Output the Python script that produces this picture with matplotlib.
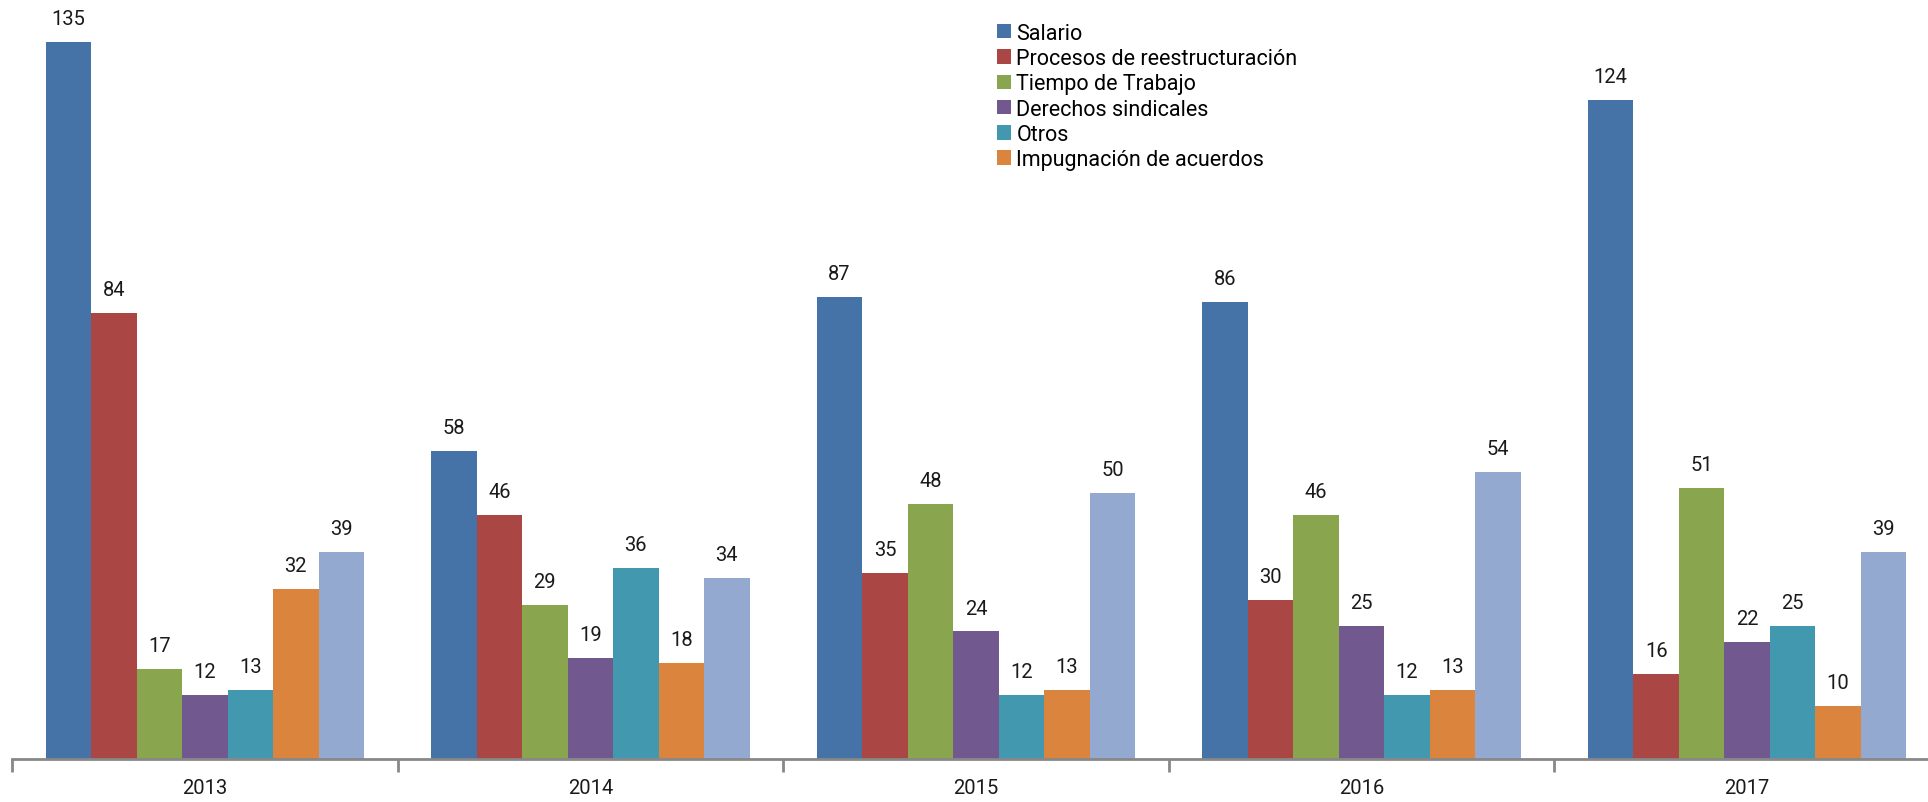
import numpy as np
import matplotlib.pyplot as plt

plt.rcParams['font.family'] = ['Roboto', 'DejaVu Sans']

# data
years = ["2013", "2014", "2015", "2016", "2017"]
salario = [135, 58, 87, 86, 124]
procesos = [84, 46, 35, 30, 16]
tiempo = [17, 29, 48, 46, 51]
derechos = [12, 19, 24, 25, 22]
otros = [13, 36, 12, 12, 25]
impugnacion = [32, 18, 13, 13, 10]
total_otro = [39, 34, 50, 54, 39]

series = [salario, procesos, tiempo, derechos, otros, impugnacion, total_otro]
names = ["Salario", "Procesos de reestructuración", "Tiempo de Trabajo",
         "Derechos sindicales", "Otros", "Impugnación de acuerdos", None]
colors = ["#4572A7", "#AA4643", "#89A54E", "#71588F", "#4198AF", "#DB843D", "#93A9CF"]

fig = plt.figure(figsize=(19.28, 8.03), dpi=100)
ax = fig.add_axes([0.0062, 0.0535, 1.0, 0.9465])

x = np.arange(len(years))
w = 0.118
for i, (vals, name, c) in enumerate(zip(series, names, colors)):
    pos = x + (i - 3) * w
    bars = ax.bar(pos, vals, width=w, color=c, linewidth=0,
                  label=name if name else "_nolegend_")
    for b, v in zip(bars, vals):
        ax.annotate(str(v), (b.get_x() + b.get_width() / 2, v),
                    xytext=(0, 10), textcoords="offset points",
                    ha="center", va="bottom", fontsize=14.5, color="#1a1a1a")

ax.set_xlim(-0.5, 4.5)
ax.set_ylim(0, 143)
for s in ["top", "right", "left"]:
    ax.spines[s].set_visible(False)
ax.spines["bottom"].set_color("#888888")
ax.spines["bottom"].set_linewidth(2)
ax.set_yticks([])
ax.set_xticks(x)
ax.set_xticklabels(years, fontsize=14.5, color="#1a1a1a")
ax.tick_params(axis="x", which="major", length=0, pad=14)
ax.set_xticks(np.arange(-0.5, 5.0, 1.0), minor=True)
ax.tick_params(axis="x", which="minor", length=9, width=2, color="#888888")

ax.legend(loc="upper left", bbox_to_anchor=(0.4986, 1.0), frameon=False,
          fontsize=15.5, handlelength=0.65, handleheight=0.65, handletextpad=0.25,
          labelspacing=0.2, borderaxespad=0.7)

fig.savefig("out.png", dpi=100)
